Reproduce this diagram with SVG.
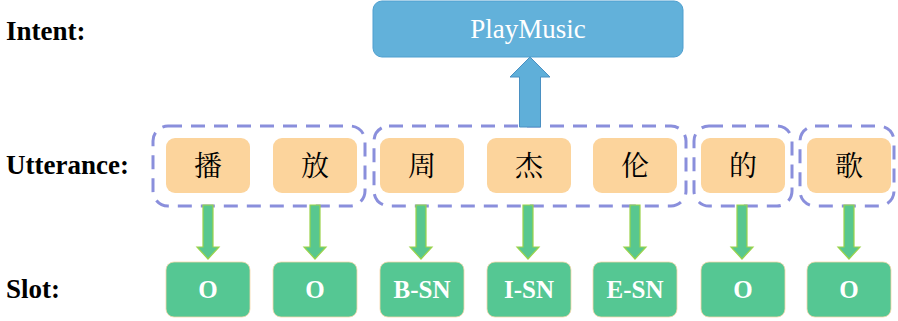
<svg xmlns="http://www.w3.org/2000/svg" width="898" height="321" viewBox="0 0 898 321">
<style>
.lbl{font-family:"Liberation Serif","Times New Roman",serif;font-weight:bold;font-size:27px;fill:#000}
.intent{fill:#62b1da;stroke:#4e9fcf;stroke-width:1}
.intentTxt{font-family:"Liberation Serif","Times New Roman",serif;font-size:27px;fill:#fff;text-anchor:middle}
.grp{fill:none;stroke:#8a8fdc;stroke-width:3;stroke-dasharray:14 9}
.tok{fill:#fcd49c}
.tokTxt{font-family:"Noto Serif CJK SC","Noto Sans CJK SC",serif;font-size:28px;fill:#000;text-anchor:middle}
.slot{fill:#55c793;stroke:#f5d7a8;stroke-width:0.8}
.slotTxt{font-family:"Liberation Serif","Times New Roman",serif;font-weight:bold;font-size:25px;fill:#fff;text-anchor:middle}
.garrow{fill:#58c78f;stroke:#9ad34a;stroke-width:1.2}
.barrow{fill:#5fafd9;stroke:#4a90c2;stroke-width:1}
</style>
<rect width="898" height="321" fill="#fff"/>
<g id="labels">
<text class="lbl" x="6" y="40">Intent:</text>
<text class="lbl" x="6" y="174">Utterance:</text>
<text class="lbl" x="6" y="298">Slot:</text>
</g>
<g id="groups">
<rect class="grp" x="153" y="126" width="212" height="80" rx="15"/>
<rect class="grp" x="374" y="126" width="312" height="80" rx="15"/>
<rect class="grp" x="694" y="126" width="98" height="80" rx="15"/>
<rect class="grp" x="800" y="126" width="94" height="80" rx="15"/>
</g>
<g id="connectors">
<path class="barrow" d="M519.5 127 V77 H510 L530 57 L550 77 H540.5 V127 Z"/>
<path class="garrow" d="M203 205 V247 H197 L208 259 L219 247 H213 V205 Z"/>
<path class="garrow" d="M310 205 V247 H304 L315 259 L326 247 H320 V205 Z"/>
<path class="garrow" d="M416 205 V247 H410 L421 259 L432 247 H426 V205 Z"/>
<path class="garrow" d="M523 205 V247 H517 L528 259 L539 247 H533 V205 Z"/>
<path class="garrow" d="M630 205 V247 H624 L635 259 L646 247 H640 V205 Z"/>
<path class="garrow" d="M737 205 V247 H731 L742 259 L753 247 H747 V205 Z"/>
<path class="garrow" d="M844 205 V247 H838 L849 259 L860 247 H854 V205 Z"/>
</g>
<g id="intent">
<rect class="intent" x="373" y="1" width="310" height="56" rx="9"/>
<text class="intentTxt" x="528" y="38">PlayMusic</text>
</g>
<g id="tok1"><rect class="tok" x="166" y="138" width="84" height="55" rx="9"/><text class="tokTxt" x="208" y="176">播</text></g>
<g id="tok2"><rect class="tok" x="273" y="138" width="84" height="55" rx="9"/><text class="tokTxt" x="315" y="176">放</text></g>
<g id="tok3"><rect class="tok" x="380" y="138" width="84" height="55" rx="9"/><text class="tokTxt" x="422" y="176">周</text></g>
<g id="tok4"><rect class="tok" x="487" y="138" width="84" height="55" rx="9"/><text class="tokTxt" x="529" y="176">杰</text></g>
<g id="tok5"><rect class="tok" x="593" y="138" width="84" height="55" rx="9"/><text class="tokTxt" x="635" y="176">伦</text></g>
<g id="tok6"><rect class="tok" x="701" y="138" width="84" height="55" rx="9"/><text class="tokTxt" x="743" y="176">的</text></g>
<g id="tok7"><rect class="tok" x="807" y="138" width="84" height="55" rx="9"/><text class="tokTxt" x="849" y="176">歌</text></g>
<g id="slot1"><rect class="slot" x="166" y="262" width="84" height="55" rx="8"/><text class="slotTxt" x="208" y="298">O</text></g>
<g id="slot2"><rect class="slot" x="273" y="262" width="84" height="55" rx="8"/><text class="slotTxt" x="315" y="298">O</text></g>
<g id="slot3"><rect class="slot" x="380" y="262" width="84" height="55" rx="8"/><text class="slotTxt" x="422" y="298">B-SN</text></g>
<g id="slot4"><rect class="slot" x="487" y="262" width="84" height="55" rx="8"/><text class="slotTxt" x="529" y="298">I-SN</text></g>
<g id="slot5"><rect class="slot" x="593" y="262" width="84" height="55" rx="8"/><text class="slotTxt" x="635" y="298">E-SN</text></g>
<g id="slot6"><rect class="slot" x="701" y="262" width="84" height="55" rx="8"/><text class="slotTxt" x="743" y="298">O</text></g>
<g id="slot7"><rect class="slot" x="807" y="262" width="84" height="55" rx="8"/><text class="slotTxt" x="849" y="298">O</text></g>
</svg>
